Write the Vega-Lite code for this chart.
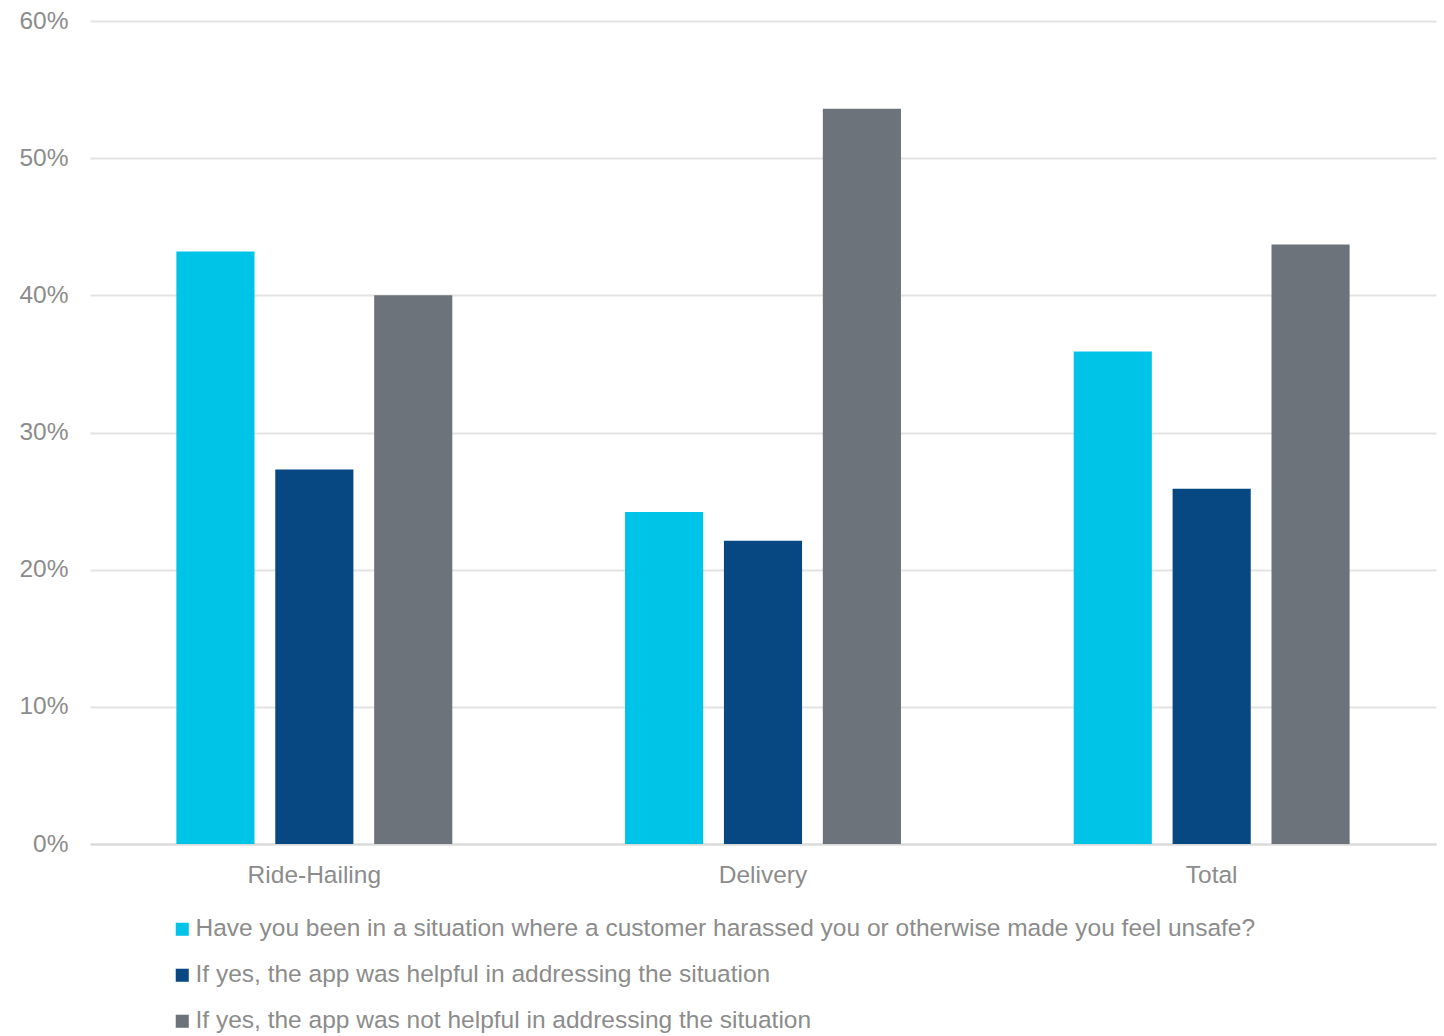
{
  "$schema": "https://vega.github.io/schema/vega-lite/v6.json",
  "autosize": "none",
  "width": 1346,
  "height": 823,
  "padding": {"left": 90, "top": 21, "right": 8, "bottom": 192},
  "background": "white",
  "data": {
    "values": [
      {"category": "Ride-Hailing", "series": "Have you been in a situation where a customer harassed you or otherwise made you feel unsafe?", "value": 0.432},
      {"category": "Ride-Hailing", "series": "If yes, the app was helpful in addressing the situation", "value": 0.273},
      {"category": "Ride-Hailing", "series": "If yes, the app was not helpful in addressing the situation", "value": 0.400},
      {"category": "Delivery", "series": "Have you been in a situation where a customer harassed you or otherwise made you feel unsafe?", "value": 0.242},
      {"category": "Delivery", "series": "If yes, the app was helpful in addressing the situation", "value": 0.221},
      {"category": "Delivery", "series": "If yes, the app was not helpful in addressing the situation", "value": 0.536},
      {"category": "Total", "series": "Have you been in a situation where a customer harassed you or otherwise made you feel unsafe?", "value": 0.359},
      {"category": "Total", "series": "If yes, the app was helpful in addressing the situation", "value": 0.259},
      {"category": "Total", "series": "If yes, the app was not helpful in addressing the situation", "value": 0.437}
    ]
  },
  "mark": {"type": "bar"},
  "encoding": {
    "x": {
      "field": "category", "type": "nominal", "sort": ["Ride-Hailing", "Delivery", "Total"],
      "scale": {"paddingInner": 0.385, "paddingOuter": 0.1925},
      "axis": {"title": null, "labelAngle": 0, "ticks": false, "domain": true, "domainColor": "#D9D9D9", "domainWidth": 2,
        "labelFont": "Liberation Sans", "labelFontSize": 24.5, "labelColor": "#8C8C8C", "labelPadding": 19}
    },
    "xOffset": {
      "field": "series", "type": "nominal",
      "sort": ["Have you been in a situation where a customer harassed you or otherwise made you feel unsafe?", "If yes, the app was helpful in addressing the situation", "If yes, the app was not helpful in addressing the situation"],
      "scale": {"paddingInner": 0.21, "paddingOuter": 0}
    },
    "y": {
      "field": "value", "type": "quantitative",
      "scale": {"domain": [0, 0.6]},
      "axis": {"title": null, "format": ".0%", "values": [0, 0.1, 0.2, 0.3, 0.4, 0.5, 0.6], "ticks": false, "domain": false, "labelOverlap": false,
        "gridColor": "#E3E3E3", "gridWidth": 2, "labelFont": "Liberation Sans", "labelFontSize": 24.5, "labelColor": "#8C8C8C", "labelPadding": 22}
    },
    "color": {
      "field": "series", "type": "nominal",
      "sort": ["Have you been in a situation where a customer harassed you or otherwise made you feel unsafe?", "If yes, the app was helpful in addressing the situation", "If yes, the app was not helpful in addressing the situation"],
      "scale": {"range": ["#00C3E8", "#074782", "#6C737A"]},
      "legend": {"title": null, "orient": "none", "legendX": 80, "legendY": 896, "direction": "vertical",
        "symbolType": "square", "symbolSize": 170, "symbolStrokeWidth": 0, "rowPadding": 21,
        "labelFont": "Liberation Sans", "labelFontSize": 24.5, "labelColor": "#8C8C8C", "labelLimit": 1400, "labelOffset": 1}
    }
  },
  "config": {"view": {"stroke": null}}
}
